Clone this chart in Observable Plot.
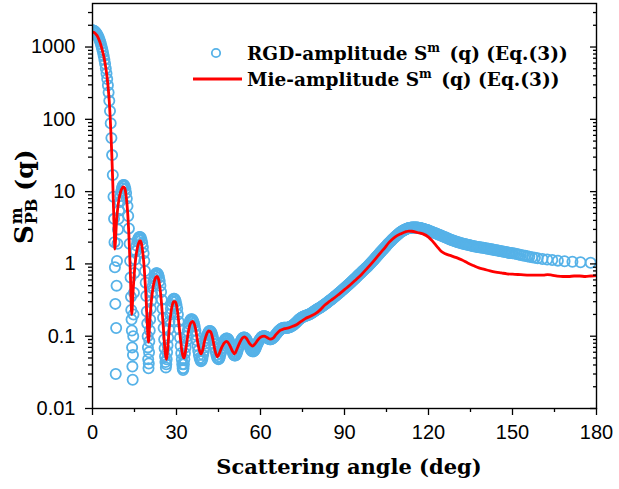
<!DOCTYPE html>
<html><head><meta charset="utf-8">
<script src="https://cdn.jsdelivr.net/npm/d3@7"></script>
<script src="https://cdn.jsdelivr.net/npm/@observablehq/plot@0.6"></script>
<style>
body{margin:0;background:#fff}
#chart{width:619px;height:489px;position:relative;overflow:hidden}
</style>
</head><body><div id="chart"></div>
<script>
// RGD-amplitude S^m(q) points: [scattering angle (deg), value]
const rgdPoints = [
[0,1700],[0.25,1695],[0.5,1680],[0.75,1655],[1,1620],[1.25,1580],[1.5,1530],[1.75,1470],[2,1410],[2.25,1340],[2.5,1260],[2.75,1180],[3,1100],[3.25,1010],[3.5,925],[3.75,840],[4,750],[4.25,665],[4.5,585],[4.75,505],[5,430],[5.25,360],[5.5,295],[5.75,235],[6,180],[6.25,130],[6.5,88],[6.75,55],[7,32],[7.25,17],[7.5,8.5],[7.7,4.2],[7.85,2.0],[8,0.9],[8.15,0.28],[8.3,0.03],
[8.45,0.13],[8.6,0.5],[8.75,1.1],[8.9,1.9],[9.1,3.0],[9.3,4.2],[9.5,5.5],[9.75,7.2],[10,8.7],[10.25,10],[10.5,11.1],[10.75,11.9],[11,12.3],[11.25,12.3],[11.5,11.8],[11.75,10.9],[12,9.6],[12.25,8.0],[12.5,6.3],[12.75,4.6],[13,3.1],[13.25,1.9],[13.45,1.1],[13.6,0.65],[13.75,0.35],[13.85,0.23],[13.95,0.17],[14.05,0.12],[14.15,0.07],[14.25,0.038],[14.35,0.025],[14.45,0.055],[14.55,0.1],[14.65,0.2],[14.8,0.4],[15,0.75],
[15.25,1.15],[15.5,1.5],[15.75,1.8],[16,2.05],[16.25,2.2],[16.5,2.3],[16.75,2.35],[17,2.35],[17.25,2.3],[17.5,2.15],[17.75,1.95],[18,1.7],[18.25,1.4],[18.5,1.1],[18.75,0.8],[19,0.55],[19.2,0.36],[19.4,0.22],[19.55,0.15],[19.7,0.1],[19.8,0.07],[19.9,0.048],[20,0.036],[20.1,0.042],[20.2,0.06],[20.3,0.085],[20.45,0.12],[20.6,0.17],[20.8,0.24],
[21,0.31],[21.25,0.4],[21.5,0.49],[21.75,0.57],[22,0.63],[22.25,0.68],[22.5,0.72],[22.75,0.74],[23,0.74],[23.25,0.73],[23.5,0.7],[23.75,0.65],[24,0.58],[24.25,0.5],[24.5,0.41],[24.75,0.32],[25,0.24],[25.2,0.18],[25.4,0.13],[25.6,0.09],[25.75,0.068],[25.9,0.053],[26.05,0.044],[26.2,0.037],[26.35,0.041],[26.5,0.048],[26.65,0.06],[26.8,0.075],[27,0.095],
[27.25,0.125],[27.5,0.16],[27.75,0.2],[28,0.24],[28.25,0.27],[28.5,0.3],[28.75,0.32],[29,0.33],[29.25,0.33],[29.5,0.32],[29.75,0.3],[30,0.27],[30.25,0.24],[30.5,0.2],[30.75,0.16],[31,0.125],[31.25,0.095],[31.5,0.073],[31.7,0.058],[31.9,0.048],[32.05,0.041],[32.2,0.036],[32.35,0.034],[32.5,0.036],[32.65,0.041],[32.8,0.048],[33,0.058],
[33.25,0.07],[33.5,0.085],[33.75,0.1],[34,0.118],[34.25,0.134],[34.5,0.148],[34.75,0.16],[35,0.168],[35.25,0.172],[35.5,0.172],[35.75,0.168],[36,0.16],[36.25,0.15],[36.5,0.136],[36.75,0.12],[37,0.104],[37.25,0.088],[37.5,0.074],[37.75,0.063],[38,0.055],[38.25,0.05],[38.5,0.047],[38.75,0.045],[39,0.046],[39.25,0.049],[39.5,0.055],
[39.75,0.062],[40,0.07],[40.25,0.079],[40.5,0.088],[40.75,0.096],[41,0.104],[41.25,0.11],[41.5,0.115],[41.75,0.118],[42,0.118],[42.25,0.116],[42.5,0.112],[42.75,0.105],[43,0.097],[43.25,0.088],[43.5,0.078],[43.75,0.069],[44,0.061],[44.25,0.055],[44.5,0.051],[44.75,0.049],[45,0.048],[45.25,0.049],[45.5,0.052],[45.75,0.057],
[46,0.062],[46.25,0.068],[46.5,0.074],[46.75,0.08],[47,0.085],[47.25,0.089],[47.5,0.091],[47.75,0.093],[48,0.093],[48.25,0.092],[48.5,0.09],[48.75,0.086],[49,0.081],[49.25,0.076],[49.5,0.071],[49.75,0.066],[50,0.061],[50.25,0.057],[50.5,0.055],[50.75,0.054],[51,0.054],[51.25,0.055],[51.5,0.058],
[51.75,0.062],[52,0.067],[52.25,0.072],[52.5,0.077],[52.75,0.082],[53,0.086],[53.25,0.09],[53.5,0.093],[53.75,0.095],[54,0.096],[54.25,0.096],[54.5,0.095],[54.75,0.093],[55,0.09],[55.25,0.086],[55.5,0.082],[55.75,0.077],[56,0.073],[56.25,0.069],[56.5,0.066],[56.75,0.064],[57,0.062],[57.25,0.062],[57.5,0.062],[57.75,0.063],[58,0.065],[58.25,0.068],[58.5,0.072],[58.75,0.076],[59,0.08],[59.25,0.084],[59.5,0.087],[59.75,0.09],
[60,0.093],[60.25,0.096],[60.5,0.098],[60.75,0.099],[61,0.1],[61.25,0.1],[61.5,0.1],[61.75,0.099],[62,0.098],[62.25,0.097],[62.5,0.095],[62.75,0.093],[63,0.092],[63.25,0.091],[63.5,0.091],[63.75,0.091],[64,0.092],[64.25,0.093],[64.5,0.095],[64.75,0.097],[65,0.1],[65.25,0.103],[65.5,0.106],[65.75,0.109],[66,0.112],[66.25,0.115],[66.5,0.118],[66.75,0.12],[67,0.123],[67.25,0.125],[67.5,0.127],[67.75,0.129],[68,0.13],[68.25,0.131],[68.5,0.131],[68.75,0.131],[69,0.131],[69.25,0.131],[69.5,0.131],[69.75,0.131],
[70,0.132],[70.25,0.133],[70.5,0.134],[70.75,0.135],[71,0.137],[71.25,0.139],[71.5,0.141],[71.75,0.143],[72,0.146],[72.25,0.149],[72.5,0.152],[72.75,0.155],[73,0.159],[73.25,0.162],[73.5,0.166],[73.75,0.17],[74,0.173],[74.25,0.176],[74.5,0.179],[74.75,0.182],[75,0.184],[75.25,0.186],[75.5,0.188],[75.75,0.19],[76,0.191],[76.25,0.193],[76.5,0.194],[76.75,0.196],[77,0.197],[77.25,0.199],[77.5,0.201],[77.75,0.203],[78,0.206],[78.25,0.209],[78.5,0.212],[78.75,0.215],[79,0.219],[79.25,0.222],[79.5,0.226],[79.75,0.229],
[80,0.233],[80.25,0.236],[80.5,0.239],[80.75,0.242],[81,0.245],[81.25,0.248],[81.5,0.252],[81.75,0.256],[82,0.26],[82.25,0.264],[82.5,0.268],[82.75,0.272],[83,0.277],[83.25,0.281],[83.5,0.286],[83.75,0.291],[84,0.296],[84.25,0.301],[84.5,0.306],[84.75,0.311],[85,0.317],[85.25,0.322],[85.5,0.328],[85.75,0.334],[86,0.34],[86.25,0.346],[86.5,0.353],[86.75,0.359],[87,0.366],[87.25,0.373],[87.5,0.38],[87.75,0.387],[88,0.395],[88.25,0.402],[88.5,0.41],[88.75,0.418],[89,0.427],[89.25,0.435],[89.5,0.443],[89.75,0.452],
[90,0.46],[90.25,0.47],[90.5,0.48],[90.75,0.49],[91,0.5],[91.25,0.51],[91.5,0.52],[91.75,0.53],[92,0.54],[92.25,0.552],[92.5,0.565],[92.75,0.577],[93,0.59],[93.25,0.602],[93.5,0.615],[93.75,0.627],[94,0.64],[94.25,0.655],[94.5,0.67],[94.75,0.685],[95,0.7],[95.25,0.715],[95.5,0.73],[95.75,0.745],[96,0.76],[96.25,0.777],[96.5,0.795],[96.75,0.812],[97,0.83],[97.25,0.847],[97.5,0.865],[97.75,0.882],[98,0.9],[98.25,0.922],[98.5,0.945],[98.75,0.967],[99,0.99],[99.25,1.015],[99.5,1.04],[99.75,1.065],
[100,1.09],[100.25,1.117],[100.5,1.145],[100.75,1.172],[101,1.2],[101.25,1.232],[101.5,1.265],[101.75,1.297],[102,1.33],[102.25,1.365],[102.5,1.4],[102.75,1.435],[103,1.47],[103.25,1.507],[103.5,1.545],[103.75,1.582],[104,1.62],[104.25,1.662],[104.5,1.705],[104.75,1.747],[105,1.79],[105.25,1.835],[105.5,1.88],[105.75,1.925],[106,1.97],[106.25,2.017],[106.5,2.065],[106.75,2.112],[107,2.16],[107.25,2.207],[107.5,2.255],[107.75,2.302],[108,2.35],[108.25,2.4],[108.5,2.45],[108.75,2.5],[109,2.55],[109.25,2.597],[109.5,2.645],[109.75,2.692],
[110,2.74],[110.25,2.78],[110.5,2.82],[110.75,2.86],[111,2.9],[111.25,2.935],[111.5,2.97],[111.75,3.0],[112,3.03],[112.25,3.055],[112.5,3.08],[112.75,3.105],[113,3.13],[113.25,3.145],[113.5,3.16],[113.75,3.17],[114,3.18],[114.25,3.19],[114.5,3.195],[114.75,3.2],[115,3.2],[115.25,3.195],[115.5,3.19],[115.75,3.185],[116,3.18],[116.25,3.17],[116.5,3.16],[116.75,3.145],[117,3.13],[117.25,3.115],[117.5,3.1],[117.75,3.08],[118,3.06],[118.25,3.04],[118.5,3.02],[118.75,3.0],[119,2.98],[119.25,2.96],[119.5,2.94],[119.75,2.915],
[120,2.89],[120.5,2.84],[121,2.8],[121.5,2.75],[122,2.7],[122.5,2.66],[123,2.61],[123.5,2.56],[124,2.52],[124.5,2.47],[125,2.42],[125.5,2.38],[126,2.34],[126.5,2.29],[127,2.25],[127.5,2.2],[128,2.16],[128.5,2.12],[129,2.09],[129.5,2.06],[130,2.03],[130.5,2.0],[131,1.97],[131.5,1.95],[132,1.92],[132.5,1.9],[133,1.88],[133.5,1.86],[134,1.84],[134.5,1.82],[135,1.8],[135.5,1.78],[136,1.76],[136.5,1.75],[137,1.73],[137.5,1.72],[138,1.71],[138.5,1.69],[139,1.68],[139.5,1.67],
[140,1.66],[140.5,1.64],[141,1.63],[141.5,1.62],[142,1.6],[142.5,1.59],[143,1.58],[143.5,1.56],[144,1.55],[144.5,1.54],[145,1.52],[145.5,1.51],[146,1.5],[146.5,1.48],[147,1.47],[147.5,1.46],[148,1.45],[148.5,1.43],[149,1.42],[149.5,1.41],[150,1.4],
[150.75,1.39],[151.5,1.37],[152.25,1.35],[153,1.33],[153.75,1.31],[154.5,1.3],[155.25,1.28],[156,1.26],[157,1.24],[158,1.22],[159,1.2],[160.7,1.17],[162.4,1.15],[164.2,1.13],[166.2,1.11],[168.6,1.09],[171.4,1.07],[174.3,1.055],[177.9,1.04]
];

// Mie-amplitude S^m(q) curve: [scattering angle (deg), value]
const miePoints = [
[0,1600],[0.5,1590],[1,1540],[1.5,1460],[2,1350],[2.5,1210],[3,1060],[3.5,900],[4,750],[4.5,590],[5,440],[5.5,300],[6,175],[6.3,110],[6.6,62],[6.9,32],[7.2,15],[7.5,6],[7.75,3],[8,1.6],[8.25,2.2],[8.5,3.5],[9,5.8],[9.5,8],[10,9.8],[10.5,11],[11,11.6],[11.5,11.2],[12,8.8],[12.5,5.5],[13,2.5],[13.5,0.8],[14,0.2],[14.5,0.42],[15,0.8],[15.5,1.25],[16,1.65],[16.5,1.95],[17,2.1],[17.5,1.9],[18,1.4],[18.5,0.85],[19,0.42],[19.5,0.17],[20,0.083],[20.5,0.17],[21,0.3],[21.5,0.44],[22,0.56],[22.5,0.64],[23,0.67],[23.5,0.63],[24,0.5],[24.5,0.33],[25,0.19],[25.5,0.1],[26,0.058],[26.4,0.048],[27,0.08],[27.5,0.14],[28,0.21],[28.5,0.27],[29,0.3],[29.5,0.3],[30,0.27],[30.5,0.2],[31,0.13],[31.5,0.085],[32,0.06],[32.7,0.05],[33.3,0.065],[34,0.1],[34.5,0.13],[35,0.15],[35.7,0.16],[36.3,0.15],[37,0.115],[37.5,0.085],[38,0.068],[38.8,0.057],[39.5,0.068],[40,0.085],[40.7,0.105],[41.5,0.118],[42.2,0.115],[43,0.09],[43.7,0.065],[44.6,0.052],[45.3,0.058],[46,0.068],[47,0.08],[48,0.085],[49,0.075],[50,0.062],[50.8,0.057],[51.5,0.065],[52.5,0.08],[53.5,0.094],[54.3,0.098],[55,0.093],[56,0.08],[57.2,0.073],[58,0.078],[59,0.088],[60,0.097],[61.3,0.1],[62.5,0.095],[63.5,0.091],[64.5,0.094],[65.5,0.105],[67,0.12],[68.5,0.127],[70,0.13],[71.5,0.137],[73,0.145],[74.5,0.16],[76,0.175],[78,0.19],[80,0.21],[81.5,0.235],[83,0.27],[84.5,0.3],[86,0.33],[88,0.38],[90,0.44],[92,0.51],[94,0.6],[96,0.71],[98,0.86],[100,1.05],[102,1.3],[104,1.6],[106,2.0],[108,2.35],[110,2.6],[112,2.8],[113,2.85],[114,2.83],[116,2.72],[118,2.6],[120,2.35],[121.5,2.05],[123,1.75],[124.5,1.5],[126,1.38],[128,1.3],[130,1.22],[132,1.13],[134,1.03],[136,0.95],[138,0.88],[140,0.84],[142,0.8],[144,0.77],[146,0.75],[148,0.73],[150,0.72],[153,0.71],[156,0.7],[159,0.7],[161,0.7],[162.5,0.71],[164,0.7],[166,0.68],[168,0.67],[170,0.67],[172,0.68],[174,0.68],[176,0.67],[178,0.68],[180,0.69]
];

const xTicks = [0, 30, 60, 90, 120, 150, 180];
const xMinorTicks = [15, 45, 75, 105, 135, 165];
const yTicks = [0.01, 0.1, 1, 10, 100, 1000];
const yTickLabels = ["0.01", "0.1", "1", "10", "100", "1000"];
const yMinorMultipliers = [2, 3, 4, 5, 6, 7, 8, 9];
const seriesNames = ["RGD-amplitude", "Mie-amplitude"];
const legendSuffix = " (q) (Eq.(3))";
const xTitle = "Scattering angle (deg)";

const yMinorTicks = yTicks.flatMap(d => yMinorMultipliers.map(m => +(d * m).toPrecision(3))).filter(v => v < 4000);

const blue = "#56b2e8";
const red = "#ff0000";
const noLabel = () => "";

const plot = Plot.plot({
  width: 619,
  height: 489,
  marginLeft: 92,
  marginRight: 23,
  marginTop: 3,
  marginBottom: 81,
  style: {fontFamily: "'Liberation Sans', Arial, sans-serif", fontSize: "20px", background: "#fff", color: "#000"},
  x: {domain: [0, 180]},
  y: {type: "log", domain: [0.01, 4000]},
  marks: [
    Plot.dot(rgdPoints, {x: d => d[0], y: d => d[1], r: 5.1, stroke: blue, strokeWidth: 1.8, fill: "none", clip: true}),
    Plot.line(miePoints, {x: d => d[0], y: d => d[1], stroke: red, strokeWidth: 2.8, curve: "monotone-x", clip: true}),
    Plot.frame({stroke: "#000", strokeWidth: 1.4}),
    Plot.axisX(xTicks, {anchor: "bottom", tickSize: 7, tickPadding: 9, strokeWidth: 1.3, label: null, tickFormat: d => String(d), fontSize: 20}),
    Plot.axisX(xMinorTicks, {anchor: "bottom", tickSize: 4, strokeWidth: 1.3, label: null, tickFormat: noLabel}),
    Plot.axisY(yTicks, {anchor: "left", tickSize: 7, tickPadding: 10, strokeWidth: 1.3, label: null, tickFormat: d => yTickLabels[yTicks.indexOf(d)], fontSize: 20}),
    Plot.axisY(yMinorTicks, {anchor: "left", tickSize: 4, strokeWidth: 1.3, label: null, tickFormat: noLabel}),
    Plot.axisY(yTicks, {anchor: "right", tickSize: 7, dx: -7, strokeWidth: 1.3, label: null, tickFormat: noLabel}),
    Plot.axisY(yMinorTicks, {anchor: "right", tickSize: 4, dx: -4, strokeWidth: 1.3, label: null, tickFormat: noLabel})
  ]
});

document.getElementById("chart").appendChild(plot);
const svg = d3.select(plot);
const serif = "'DejaVu Serif', 'Liberation Serif', serif";

// x-axis title
svg.append("text")
  .attr("x", 349).attr("y", 474)
  .attr("text-anchor", "middle")
  .attr("font-family", serif).attr("font-weight", "bold").attr("font-size", 21)
  .attr("fill", "#000")
  .text(xTitle);

// y-axis title: S^m_PB (q)
const yl = svg.append("g").attr("transform", "translate(33,244) rotate(-90)")
  .attr("font-family", serif).attr("font-weight", "bold").attr("fill", "#000")
  .attr("text-anchor", "start");
const sText = yl.append("text").attr("x", 0).attr("y", 0).attr("font-size", 26).text("S");
const sW = sText.node().getComputedTextLength();
const mText = yl.append("text").attr("x", sW + 1).attr("y", -11).attr("font-size", 16).text("m");
const pbText = yl.append("text").attr("x", sW + 1).attr("y", 4).attr("font-size", 16).text("PB");
const pbW = Math.max(pbText.node().getComputedTextLength(), mText.node().getComputedTextLength());
yl.append("text").attr("x", sW + pbW + 9).attr("y", 0).attr("font-size", 25).text("(q)");

// legend
const legendRows = [
  {name: seriesNames[0], y: 53},
  {name: seriesNames[1], y: 79}
];
svg.append("circle").attr("cx", 216).attr("cy", 53).attr("r", 4.2).attr("fill", "none").attr("stroke", blue).attr("stroke-width", 1.8);
svg.append("line").attr("x1", 193).attr("x2", 242).attr("y1", 79).attr("y2", 79).attr("stroke", red).attr("stroke-width", 2.8);
legendRows.forEach(row => {
  const t = svg.append("text").attr("x", 247).attr("y", row.y + 6.5)
    .attr("text-anchor", "start")
    .attr("font-family", serif).attr("font-weight", "bold").attr("font-size", 18.5).attr("fill", "#000");
  t.append("tspan").text(row.name + " S");
  t.append("tspan").attr("font-size", 12).attr("dy", -8).text("m");
  t.append("tspan").attr("dy", 8).attr("dx", 3).text(legendSuffix);
});
</script>
</body></html>
